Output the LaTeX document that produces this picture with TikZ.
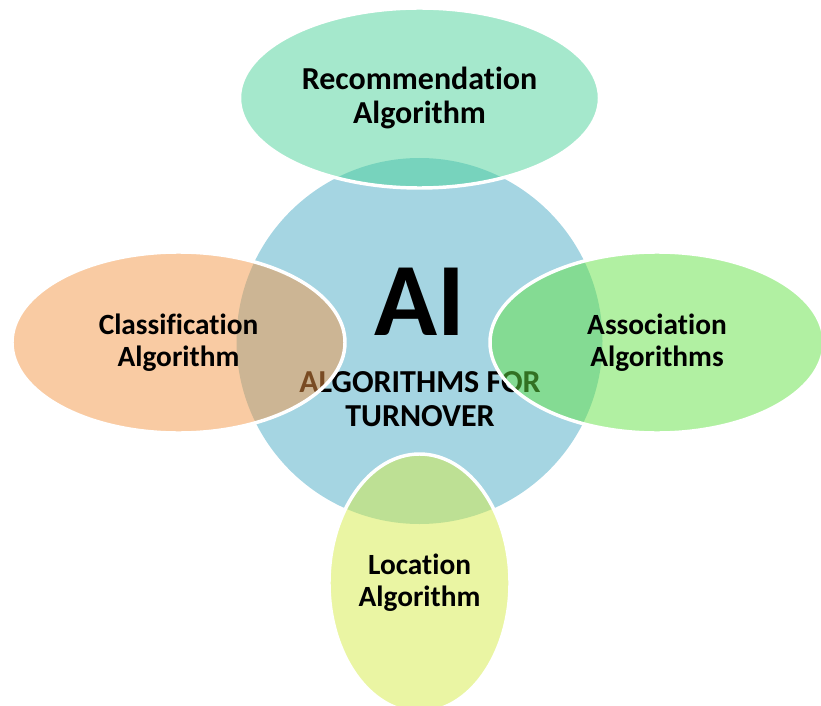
\documentclass[tikz,border=0pt]{standalone}
\usepackage{fontspec}
\setmainfont{Carlito}[Ligatures=NoCommon]
\usetikzlibrary{shapes.geometric}

\definecolor{hubblue}{RGB}{165,213,226}
\definecolor{recgreen}{RGB}{75,210,153}
\definecolor{classorange}{RGB}{243,151,71}
\definecolor{assocgreen}{RGB}{100,226,69}
\definecolor{locyellow}{RGB}{213,235,71}

\begin{document}
\begin{tikzpicture}[
    x=0.75pt,
    y=-0.75pt,
    font=\fontsize{22}{24}\selectfont\bfseries,
    hub/.style={
        circle,
        fill=hubblue,
        minimum size=274.5pt,
        inner sep=0pt
    },
    algo/.style={
        ellipse,
        draw=white,
        line width=2.6pt,
        fill opacity=0.5,
        draw opacity=1,
        text opacity=1,
        inner sep=0pt,
        align=center
    },
    big/.style={
        font=\fontsize{24}{25.5}\selectfont\bfseries
    }
]
    \clip (0,0) rectangle (821,706);

    % central circle and its texts
    \node[hub] (hub) at (419.5,341) {};
    \node[inner sep=0pt, font=\fontsize{78}{78}\selectfont\bfseries]
        (hub-title) at (420,301.5) {AI};
    \node[big, inner sep=0pt, align=center] (hub-caption) at (420,399)
        {ALGORITHMS FOR\\TURNOVER};

    % the four algorithm families
    \node[algo, big, fill=recgreen,
          minimum width=270pt, minimum height=135pt]
        (recommendation) at (419.5,98)
        {Recommendation\\Algorithm};
    \node[algo, fill=classorange,
          minimum width=249.75pt, minimum height=135.75pt]
        (classification) at (178.5,342.5)
        {Classification\\Algorithm};
    \node[algo, fill=assocgreen,
          minimum width=250.5pt, minimum height=135.75pt]
        (association) at (657,342.5)
        {Association\\Algorithms};
    \node[algo, fill=locyellow,
          minimum width=135.75pt, minimum height=193.5pt]
        (location) at (419.5,583)
        {Location\\Algorithm};
\end{tikzpicture}
\end{document}
